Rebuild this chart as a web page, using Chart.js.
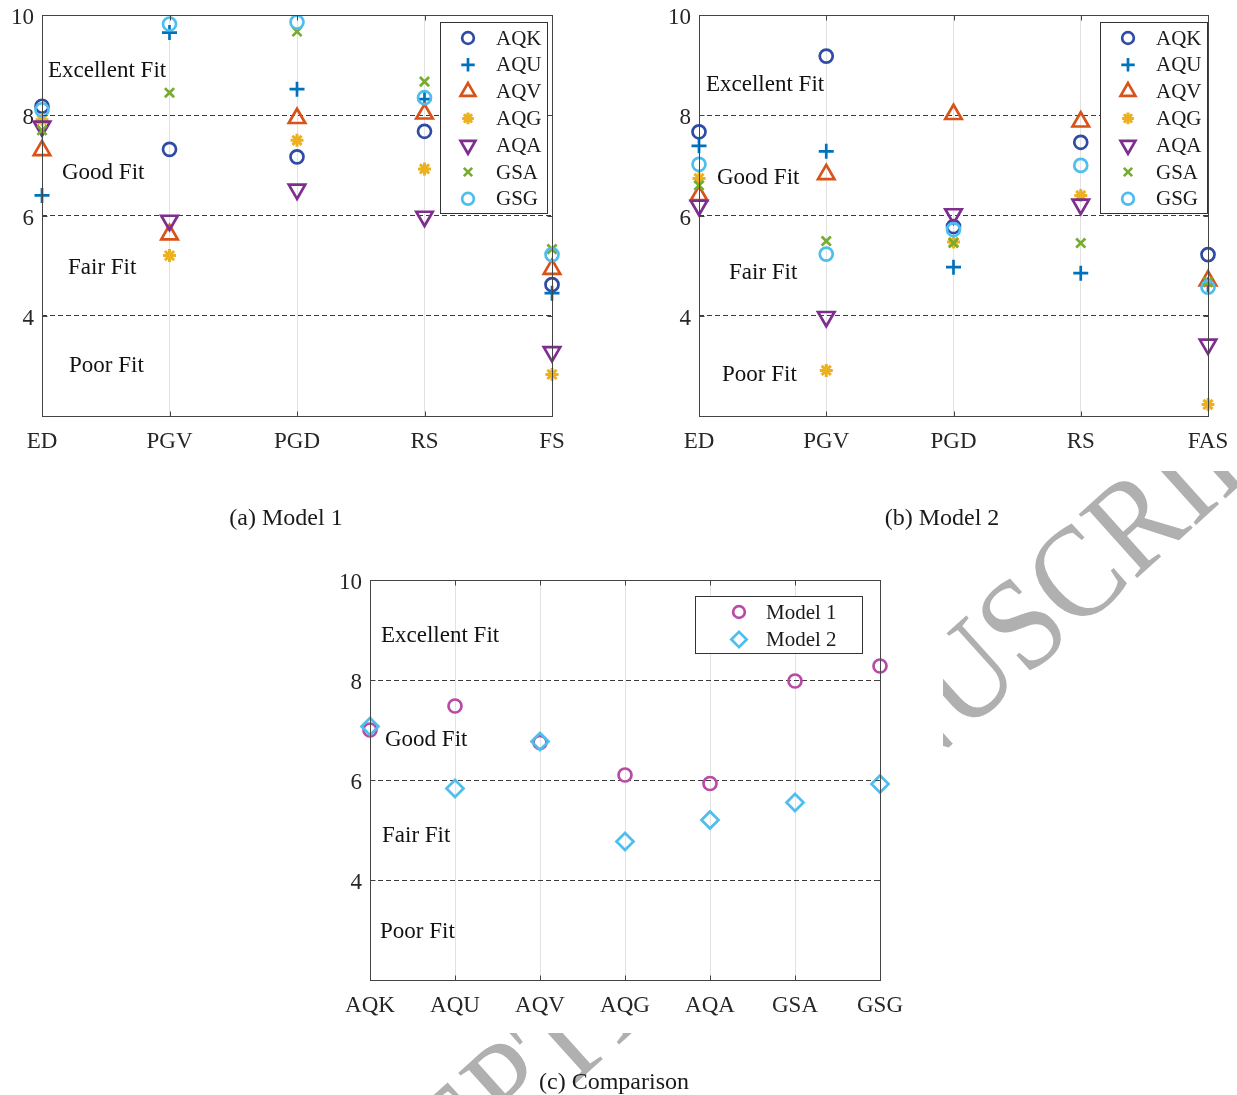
<!DOCTYPE html>
<html lang="en">
<head>
  <meta charset="UTF-8">
  <title>Goodness of fit by site and method</title>
  <script src="https://cdn.jsdelivr.net/npm/chart.js"></script>
  <style>
    body {
      margin: 0;
      background: #fff;
      width: 1237px;
      height: 1095px;
      position: relative;
      overflow: hidden;
      font-family: "Liberation Serif", serif;
    }
    canvas { position: absolute; }
    .caption {
      position: absolute;
      font-size: 24px;
      line-height: 24px;
      color: #1a1a1a;
      white-space: nowrap;
      transform: translateX(-50%);
    }
  </style>
</head>
<body>
  <!-- stamp layer sits underneath the three plots -->
  <canvas id="stamp" width="1237" height="1095" style="left:0;top:0"></canvas>

  <canvas id="model1" width="600" height="470" style="left:0;top:0"></canvas>
  <canvas id="model2" width="580" height="470" style="left:657px;top:0"></canvas>
  <canvas id="compare" width="600" height="470" style="left:328px;top:565px"></canvas>

  <div class="caption" style="left:286px;top:505px">(a) Model 1</div>
  <div class="caption" style="left:942px;top:505px">(b) Model 2</div>
  <div class="caption" style="left:614px;top:1069px">(c) Comparison</div>

  <script>
    // Sites (x categories) for each model
    var model1Sites = ['ED', 'PGV', 'PGD', 'RS', 'FS'];
    var model2Sites = ['ED', 'PGV', 'PGD', 'RS', 'FAS'];
    var methods = ['AQK', 'AQU', 'AQV', 'AQG', 'AQA', 'GSA', 'GSG'];

    // Model 1 scores, one array per method, in site order
    var m1AQK = [8.18, 7.32, 7.17, 7.68, 4.62];
    var m1AQU = [6.40, 9.65, 8.52, 8.32, 4.45];
    var m1AQV = [7.30, 5.62, 7.94, 8.03, 4.93];
    var m1AQG = [7.91, 5.20, 7.50, 6.93, 2.83];
    var m1AQA = [7.78, 5.90, 6.52, 5.98, 3.28];
    var m1GSA = [7.70, 8.45, 9.67, 8.67, 5.33];
    var m1GSG = [8.11, 9.82, 9.86, 8.35, 5.22];

    // Model 2 scores
    var m2AQK = [7.67, 9.18, 5.78, 7.46, 5.22];
    var m2AQU = [7.39, 7.28, 4.97, 4.85, 4.62];
    var m2AQV = [6.40, 6.82, 8.02, 7.87, 4.70];
    var m2AQG = [6.74, 2.91, 5.47, 6.40, 2.23];
    var m2AQA = [6.20, 3.98, 6.03, 6.22, 3.43];
    var m2GSA = [6.60, 5.49, 5.45, 5.45, 4.67];
    var m2GSG = [7.02, 5.23, 5.72, 7.00, 4.57];

    // Overall score per method for both models
    var compareModel1 = [7.00, 7.48, 6.75, 6.10, 5.93, 7.98, 8.28];
    var compareModel2 = [7.07, 5.83, 6.77, 4.77, 5.20, 5.55, 5.92];

    var yTickLabels = [4, 6, 8, 10];
    var zoneLevels = [4, 6, 8];
    var zoneNames = ['Excellent Fit', 'Good Fit', 'Fair Fit', 'Poor Fit'];

    var markerStyles = {
      AQK: { color: '#2F4BA5', pointStyle: 'circle', radius: 6.5, width: 2.7 },
      AQU: { color: '#0072BD', pointStyle: 'cross', radius: 7.5, width: 2.7 },
      AQV: { color: '#D95319', pointStyle: 'triangle', radius: 9.5, width: 2.7 },
      AQG: { color: '#EDB120', pointStyle: 'star', radius: 6.5, width: 3 },
      AQA: { color: '#7E2F8E', pointStyle: 'triangle', rotation: 180, radius: 9.5, width: 2.7 },
      GSA: { color: '#77AC30', pointStyle: 'crossRot', radius: 6.5, width: 2.7 },
      GSG: { color: '#4DBEEE', pointStyle: 'circle', radius: 6.5, width: 2.7 },
      'Model 1': { color: '#B84BA6', pointStyle: 'circle', radius: 6.5, width: 2.7 },
      'Model 2': { color: '#4DBEEE', pointStyle: 'rectRot', radius: 8.5, width: 2.7 }
    };

    var serif = 'Liberation Serif';
    var axisColor = '#444';

    function makeDataset(label, values, index) {
      var s = markerStyles[label];
      return {
        label: label,
        data: values,
        showLine: false,
        order: -index, // later series drawn on top
        borderColor: s.color,
        backgroundColor: 'rgba(0,0,0,0)',
        pointBorderColor: s.color,
        pointBackgroundColor: 'rgba(0,0,0,0)',
        pointStyle: s.pointStyle,
        pointRotation: s.rotation || 0,
        pointRadius: s.radius,
        pointHoverRadius: s.radius,
        pointBorderWidth: s.width
      };
    }

    // Zone captions, box frame with inward ticks, and the boxed legend
    var fitZones = {
      id: 'fitZones',
      beforeDatasetsDraw: function (chart, args, opts) {
        var ctx = chart.ctx, area = chart.chartArea, y = chart.scales.y;
        ctx.save();
        ctx.font = '23px "' + serif + '"';
        ctx.fillStyle = '#111';
        ctx.textAlign = 'left';
        ctx.textBaseline = 'middle';
        opts.labels.forEach(function (lab, i) {
          ctx.fillText(zoneNames[i], area.left + lab.dx, y.getPixelForValue(lab.at) + 2);
        });
        ctx.restore();
      },
      afterDatasetsDraw: function (chart, args, opts) {
        var ctx = chart.ctx, area = chart.chartArea;
        var xs = chart.scales.x, ys = chart.scales.y;
        var l = Math.round(area.left) + 0.5, r = Math.round(area.right) + 0.5;
        var t = Math.round(area.top) + 0.5, b = Math.round(area.bottom) + 0.5;
        ctx.save();
        ctx.strokeStyle = axisColor;
        ctx.lineWidth = 1;
        ctx.strokeRect(l, t, r - l, b - t);
        ctx.beginPath();
        xs.ticks.forEach(function (tk, i) {
          var px = Math.round(xs.getPixelForTick(i)) + 0.5;
          ctx.moveTo(px, b); ctx.lineTo(px, b - 5);
          ctx.moveTo(px, t); ctx.lineTo(px, t + 5);
        });
        ys.ticks.forEach(function (tk) {
          var py = Math.round(ys.getPixelForValue(tk.value)) + 0.5;
          ctx.moveTo(l, py); ctx.lineTo(l + 5, py);
          ctx.moveTo(r, py); ctx.lineTo(r - 5, py);
        });
        ctx.stroke();

        var lg = opts.legend;
        var bx = Math.round(area.right - lg.right - lg.w), by = Math.round(area.top + lg.top);
        ctx.fillStyle = '#fff';
        ctx.fillRect(bx, by, lg.w, lg.h);
        ctx.strokeStyle = '#333';
        ctx.strokeRect(bx + 0.5, by + 0.5, lg.w, lg.h);
        ctx.font = '21px "' + serif + '"';
        ctx.textAlign = 'left';
        ctx.textBaseline = 'middle';
        chart.data.datasets.forEach(function (ds, i) {
          var py = by + lg.first + i * lg.row;
          ctx.strokeStyle = ds.pointBorderColor;
          ctx.fillStyle = 'rgba(0,0,0,0)';
          ctx.lineWidth = ds.pointBorderWidth;
          Chart.helpers.drawPoint(ctx, {
            pointStyle: ds.pointStyle,
            rotation: ds.pointRotation,
            radius: ds.pointRadius * 0.9,
            borderWidth: ds.pointBorderWidth
          }, bx + lg.marker, py);
          ctx.fillStyle = '#1a1a1a';
          ctx.fillText(ds.label, bx + lg.text, py + 1);
        });
        ctx.restore();
      }
    };

    function buildChart(id, labels, datasets, pad, zoneOpts, legendOpts) {
      return new Chart(document.getElementById(id), {
        type: 'line',
        data: { labels: labels, datasets: datasets },
        plugins: [fitZones],
        options: {
          responsive: false,
          animation: false,
          devicePixelRatio: 1,
          events: [],
          layout: { padding: { top: 15, right: pad.right, left: 0, bottom: 0 } },
          plugins: {
            legend: { display: false },
            tooltip: { enabled: false },
            fitZones: { labels: zoneOpts, legend: legendOpts }
          },
          scales: {
            x: {
              type: 'category',
              offset: false,
              afterFit: function (s) {
                s.height = pad.bottom;
                s.paddingLeft = 0;
                s.paddingRight = 0;
              },
              grid: { color: '#e2e2e2', lineWidth: 1, drawTicks: false },
              border: { display: false },
              ticks: {
                autoSkip: false,
                maxRotation: 0,
                padding: 12,
                color: '#262626',
                font: { family: serif, size: 23 }
              }
            },
            y: {
              min: 2,
              max: 10,
              afterFit: function (s) {
                s.width = 42;
                s.paddingTop = 0;
                s.paddingBottom = 0;
              },
              grid: {
                drawTicks: false,
                lineWidth: 1,
                color: function (c) {
                  return zoneLevels.indexOf(c.tick.value) >= 0 ? '#3a3a3a' : 'rgba(0,0,0,0)';
                }
              },
              border: { display: false, dash: [5, 3] },
              ticks: {
                stepSize: 2,
                padding: 8,
                labelOffset: 3,
                color: '#262626',
                font: { family: serif, size: 23 },
                callback: function (v) { return yTickLabels.indexOf(v) >= 0 ? String(v) : ''; }
              }
            }
          }
        }
      });
    }

    buildChart('model1', model1Sites,
      [m1AQK, m1AQU, m1AQV, m1AQG, m1AQA, m1GSA, m1GSG].map(function (v, i) {
        return makeDataset(methods[i], v, i);
      }),
      { right: 48, bottom: 54 },
      [{ dx: 6, at: 8.92 }, { dx: 20, at: 6.88 }, { dx: 26, at: 5.0 }, { dx: 27, at: 3.04 }],
      { right: 5, top: 7, w: 107, h: 191, first: 16, row: 26.8, marker: 28, text: 56 });

    buildChart('model2', model2Sites,
      [m2AQK, m2AQU, m2AQV, m2AQG, m2AQA, m2GSA, m2GSG].map(function (v, i) {
        return makeDataset(methods[i], v, i);
      }),
      { right: 29, bottom: 54 },
      [{ dx: 7, at: 8.64 }, { dx: 18, at: 6.78 }, { dx: 30, at: 4.9 }, { dx: 23, at: 2.86 }],
      { right: 1, top: 7, w: 107, h: 191, first: 16, row: 26.8, marker: 28, text: 56 });

    buildChart('compare', methods,
      [makeDataset('Model 1', compareModel1, 0), makeDataset('Model 2', compareModel2, 1)],
      { right: 48, bottom: 55 },
      [{ dx: 11, at: 8.92 }, { dx: 15, at: 6.84 }, { dx: 12, at: 4.92 }, { dx: 10, at: 3.0 }],
      { right: 18, top: 16, w: 167, h: 57, first: 16, row: 27.5, marker: 44, text: 71 });

    // Diagonal grey stamp; only the parts outside the plot blocks show
    (function drawStamp() {
      var ctx = document.getElementById('stamp').getContext('2d');
      ctx.save();
      ctx.beginPath();
      ctx.rect(943, 471, 1237 - 943, 1095 - 471);
      ctx.rect(0, 1033, 1237, 62);
      ctx.clip();
      ctx.font = '132px "' + serif + '"';
      ctx.fillStyle = '#b0b0b0';
      var lead = ctx.measureText('ACCEPTED MANU').width;
      ctx.translate(1026, 678);
      ctx.rotate(-42 * Math.PI / 180);
      ctx.scale(0.9, 1);
      ctx.fillText('ACCEPTED MANUSCRIPT', -lead, 0);
      ctx.restore();
    })();
  </script>
</body>
</html>
